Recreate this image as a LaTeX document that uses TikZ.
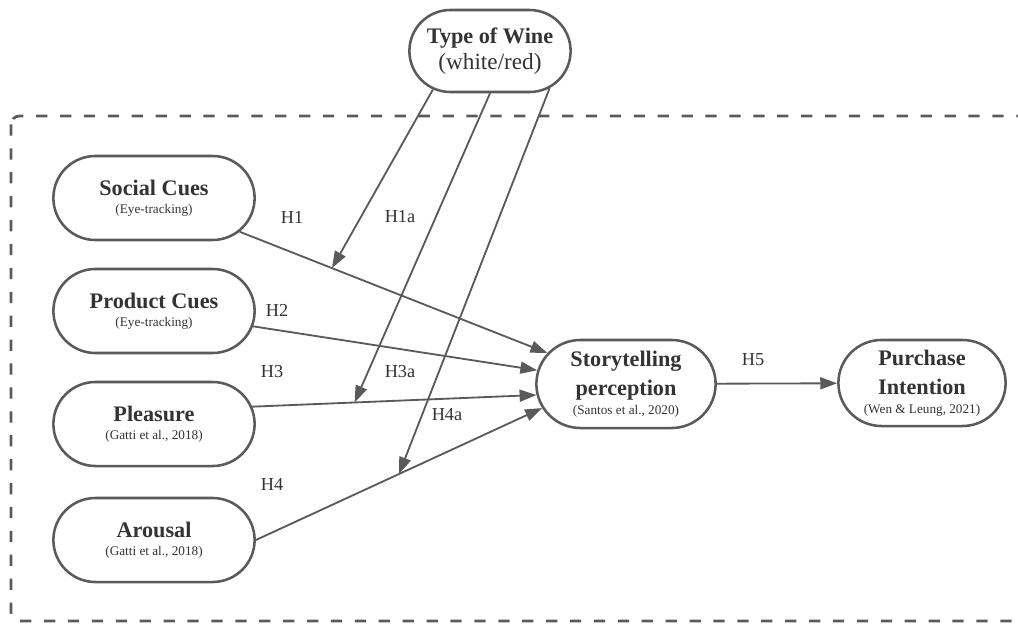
\documentclass[tikz,border=0pt]{standalone}
\usepackage[svgnames]{xcolor}
\usepackage{fontspec}
\setmainfont{Liberation Serif}
\usepackage{tikz}
\usetikzlibrary{shapes.misc}
\usetikzlibrary{arrows.meta}

\definecolor{linegray}{HTML}{5A5A5A}
\definecolor{textgray}{HTML}{333333}
\newcommand{\cuetitle}[1]{{\bfseries #1}}
\newcommand{\cuesource}[1]{{\fontsize{9.4}{11}\selectfont #1}}

\begin{document}
\begin{tikzpicture}[x = 0.025cm, y = -0.025cm,
        cue/.style = {rounded rectangle, draw = linegray, line width = 1.8pt, fill = white,
            text = textgray, align = center, font = \fontsize{15.8}{21}\selectfont,
            minimum width = 5.1cm, minimum height = 2.1cm, inner sep = 1pt},
        link/.style = {draw = linegray, line width = 1.3pt, -{Triangle[length = 12pt, width = 8.5pt]}},
        hyp/.style = {text = textgray, font = \fontsize{13}{15}\selectfont}]
        \clip (0, 0) rectangle (1018, 624);
        \draw[linegray, line width = 2pt, dash pattern = on 8pt off 9pt, rounded corners = 6pt]
            (11, 116) rectangle (1040, 621);

        \node[cue, minimum width = 4.1cm, minimum height = 2.05cm] (wine) at (490, 51)
            {\cuetitle{Type of Wine}\\[-3pt]{\fontsize{16.5}{18}\selectfont (white/red)}};
        \node[cue] (social) at (154, 198) {\cuetitle{Social Cues}\\[-8pt]\cuesource{(Eye-tracking)}};
        \node[cue] (product) at (154, 311) {\cuetitle{Product Cues}\\[-8pt]\cuesource{(Eye-tracking)}};
        \node[cue] (pleasure) at (154, 424) {\cuetitle{Pleasure}\\[-8pt]\cuesource{(Gatti et al., 2018)}};
        \node[cue] (arousal) at (154, 540) {\cuetitle{Arousal}\\[-8pt]\cuesource{(Gatti et al., 2018)}};
        \node[cue, minimum width = 4.55cm, minimum height = 2.2cm] (story) at (626, 384)
            {\cuetitle{Storytelling}\\\cuetitle{perception}\\[-8pt]\cuesource{(Santos et al., 2020)}};
        \node[cue, minimum width = 4.25cm, minimum height = 2.15cm] (purchase) at (922, 383)
            {\cuetitle{Purchase}\\\cuetitle{Intention}\\[-8pt]\cuesource{(Wen \& Leung, 2021)}};

        \draw[link] (social) -- coordinate[pos = 0.3] (h1mid) (story);
        \draw[link] (product) -- (story);
        \draw[link] (pleasure.10) -- coordinate[pos = 0.36] (h3mid) (story.187);
        \draw[link] (arousal.east) -- coordinate[pos = 0.5] (h4mid) (story.196);
        \draw[link] (story) -- (purchase);

        \draw[link] (wine.-146) -- (h1mid);
        \draw[link] (wine.south) -- (h3mid);
        \draw[link] (wine.-32) -- (h4mid);

        \node[hyp] (h1) at (292, 217) {H1};
        \node[hyp] (h1a) at (400, 217) {H1a};
        \node[hyp] (h2) at (277, 310) {H2};
        \node[hyp] (h3) at (272, 372) {H3};
        \node[hyp] (h3a) at (400, 372) {H3a};
        \node[hyp] (h4a) at (447, 415) {H4a};
        \node[hyp] (h4) at (272, 484) {H4};
        \node[hyp] (h5) at (753, 360) {H5};
\end{tikzpicture}
\end{document}
